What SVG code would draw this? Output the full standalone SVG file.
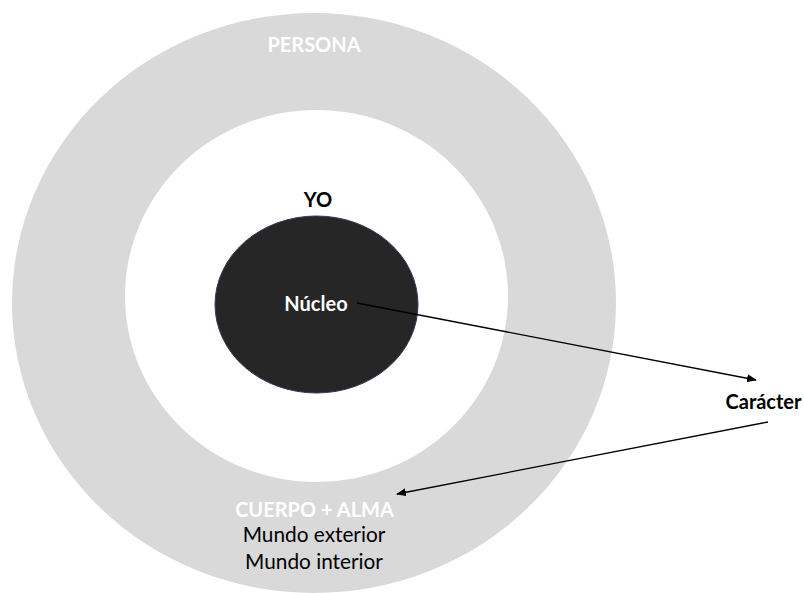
<svg xmlns="http://www.w3.org/2000/svg" width="804" height="593" viewBox="0 0 804 593">
<style>
.t{font-family:Lato,"Open Sans","Liberation Sans",sans-serif;text-anchor:middle;font-size:20px}
.r{font-size:20.8px}
.b{font-weight:bold}
.w{fill:#FFFFFF}
.k{fill:#000000}
.con{stroke:#000000;stroke-width:1.3;fill:none;marker-end:url(#ah)}
</style>
<defs>
<marker id="ah" markerWidth="10" markerHeight="8" refX="9" refY="4" orient="auto" markerUnits="userSpaceOnUse">
<path d="M0,0 L10,4 L0,8 Z" fill="#000000"/>
</marker>
</defs>
<rect width="804" height="593" fill="#FFFFFF"/>
<g id="persona">
<ellipse cx="314" cy="303" rx="302" ry="290" fill="#D9D9D9"/>
<ellipse cx="316.5" cy="296" rx="191.5" ry="186" fill="#FFFFFF"/>
<text class="t b w" x="314" y="52">PERSONA</text>
</g>
<g id="yo">
<text class="t b k" x="318" y="207">YO</text>
</g>
<g id="nucleo">
<ellipse cx="316.5" cy="304.5" rx="101.5" ry="88.5" fill="#262626" stroke="#2F3B57" stroke-width="1"/>
<text class="t b w" x="316" y="311">Núcleo</text>
</g>
<g id="caracter">
<text class="t b k" x="763.5" y="409">Carácter</text>
</g>
<g id="cuerpo-alma">
<text class="t b w" x="314.5" y="517">CUERPO + ALMA</text>
<text class="t r k" x="314" y="542">Mundo exterior</text>
<text class="t r k" x="314" y="569">Mundo interior</text>
</g>
<g id="connectors">
<line class="con" x1="357" y1="303" x2="756" y2="380"/>
<line class="con" x1="768" y1="422" x2="397" y2="494"/>
</g>
</svg>
